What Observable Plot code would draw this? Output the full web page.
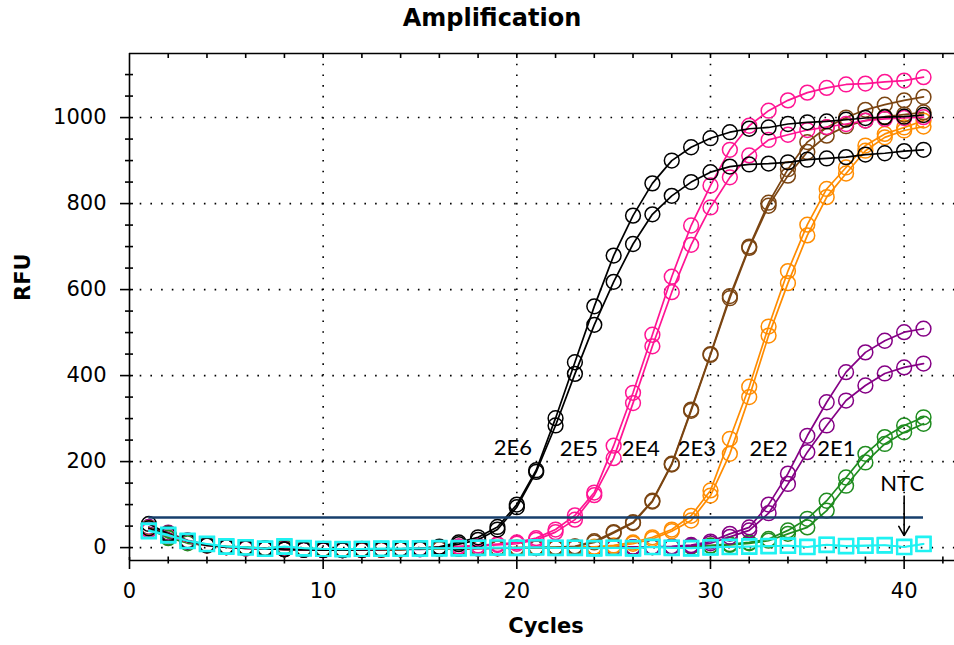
<!DOCTYPE html>
<html><head><meta charset="utf-8">
<script src="https://cdn.jsdelivr.net/npm/d3@7"></script>
<script src="https://cdn.jsdelivr.net/npm/@observablehq/plot@0.6"></script>
<style>
body{margin:0;background:#fff;}
#title{height:40px;width:984px;text-align:center;font:bold 24px "DejaVu Sans",sans-serif;line-height:36px;color:#000;}
</style></head><body>
<div id="title">Amplification</div>
<div id="chart"></div>
<script>
const cycles = [1,2,3,4,5,6,7,8,9,10,11,12,13,14,15,16,17,18,19,20,21,22,23,24,25,26,27,28,29,30,31,32,33,34,35,36,37,38,39,40,41];

const blackA = [55,32,14,6,2,0,-3,-4,-5,-6,-6,-5,-4,-3,-2,2,12,24,48,100,180,301,431,561,679,772,847,900,931,952,966,974,977,985,989,991,995,999,1001,1002,1006];
const blackB = [45,30,15,5,1,-1,-2,-4,-5,-5,-6,-5,-4,-4,-3,0,8,18,42,94,176,284,404,518,618,706,775,818,850,873,886,891,893,896,902,905,908,914,917,922,925];
const pinkA = [42,28,14,6,2,-1,-2,-3,-5,-6,-5,-5,-4,-3,-1,1,3,5,8,12,22,42,75,128,237,360,495,630,749,842,925,981,1016,1040,1058,1069,1077,1079,1083,1086,1094];
const pinkB = [40,27,13,5,1,-2,-3,-4,-5,-6,-6,-5,-4,-3,-2,0,2,4,6,9,18,36,65,122,208,336,468,594,704,791,861,912,948,960,971,978,985,993,997,999,1001];
const brownA = [44,33,16,7,2,-1,-3,-3,-4,-5,-6,-6,-5,-4,-3,-2,-2,-1,-1,0,0,1,3,15,36,59,109,195,321,450,585,700,802,880,943,977,1000,1018,1030,1040,1048];
const brownB = [42,31,15,6,1,-2,-3,-4,-5,-5,-5,-6,-5,-4,-3,-2,-2,-1,-1,-1,0,0,2,12,34,57,107,193,318,448,580,697,795,865,920,958,980,993,1002,1007,1012];
const orangeA = [46,30,15,6,2,0,-2,-3,-4,-5,-4,-5,-5,-4,-3,-2,-2,-1,-1,0,0,1,1,2,5,12,24,42,74,133,253,374,514,643,751,834,884,935,962,977,993];
const orangeB = [44,29,14,5,1,-1,-2,-4,-4,-5,-5,-5,-4,-4,-3,-3,-2,-1,-1,-1,0,0,1,1,3,9,20,38,63,121,218,350,493,615,726,815,870,923,954,970,979];
const purpleA = [48,35,17,7,2,-1,-3,-3,-5,-6,-6,-5,-5,-4,-3,-3,-2,-2,-1,-1,-1,0,0,0,1,1,2,3,6,14,32,47,100,172,260,338,408,454,481,501,509];
const purpleB = [46,33,16,6,1,-2,-3,-4,-5,-6,-5,-6,-5,-4,-4,-3,-3,-2,-2,-1,-1,-1,0,0,0,1,1,2,4,10,25,40,80,148,222,284,342,377,405,419,428];
const greenA = [47,24,10,5,3,1,-1,2,-2,-3,-4,-4,-3,-3,-3,-2,-2,-2,-1,-1,-1,0,0,0,1,1,1,2,3,5,8,12,20,40,67,109,163,218,257,284,303];
const greenB = [44,22,12,6,2,0,-2,0,-3,-4,-4,-3,-4,-3,-2,-2,-2,-1,-1,-1,0,0,0,0,1,1,1,2,2,4,6,10,16,32,47,86,144,198,241,268,288];
const ntcA = [40,30,16,9,3,1,-3,3,-1,-3,-3,-3,-3,-2,-2,-2,-1,-1,0,0,0,0,-1,-1,0,-2,2,-1,-1,0,2,3,4,4,2,7,4,5,5,2,9];
const ntcB = [38,28,15,8,2,0,-2,2,-2,-3,-4,-3,-2,-3,-2,-1,-2,0,0,-1,1,-1,0,-2,-1,-1,1,0,-2,1,1,2,3,5,1,6,3,4,6,1,8];

const groups = ["2E6","2E5","2E4","2E3","2E2","2E1","NTC"];
const threshold = 70;
const thresholdCycles = [1, 41];

const labelNames = ["2E6","2E5","2E4","2E3","2E2","2E1"];
const labelCycles = [19.8, 23.2, 26.4, 29.3, 33.0, 36.5];
const labelRFU = [232, 230, 230, 230, 230, 230];
const ntcLabel = {text: "NTC", cycle: 39.9, rfu: 149};
const ntcArrow = {cycle: 40, from: 120, to: 28};

const xMajor = [0,10,20,30,40];
const xMinor = [2,4,6,8,12,14,16,18,22,24,26,28,32,34,36,38,42];
const yMajor = [0,200,400,600,800,1000];
const yMinor = [50,100,150,250,300,350,450,500,550,650,700,750,850,900,950,1050,1100];
const xDomain = [0, 42.6];
const yDomain = [-30, 1149];

// order of drawing (back to front)
const seriesList = [
  {id:"2E1 a", group:"2E1", values:greenA},
  {id:"2E1 b", group:"2E1", values:greenB},
  {id:"2E2 a", group:"2E2", values:purpleA},
  {id:"2E2 b", group:"2E2", values:purpleB},
  {id:"2E3 a", group:"2E3", values:orangeA},
  {id:"2E3 b", group:"2E3", values:orangeB},
  {id:"2E4 a", group:"2E4", values:brownA},
  {id:"2E4 b", group:"2E4", values:brownB},
  {id:"2E5 a", group:"2E5", values:pinkA},
  {id:"2E5 b", group:"2E5", values:pinkB},
  {id:"2E6 a", group:"2E6", values:blackA},
  {id:"2E6 b", group:"2E6", values:blackB},
  {id:"NTC a", group:"NTC", values:ntcA},
  {id:"NTC b", group:"NTC", values:ntcB}
];
const colorRange = ["#000000","#ff1493","#7b4512","#ff8c00","#850085","#1f8c1f","#1ff2f2"];

const seriesMarks = [];
for (const s of seriesList) {
  const rows = cycles.map((c, i) => ({cycle: c, rfu: s.values[i], group: s.group, id: s.id}));
  const isNtc = s.group === "NTC";
  seriesMarks.push(Plot.line(rows, {x: "cycle", y: "rfu", stroke: "group", strokeWidth: 1.7}));
  seriesMarks.push(Plot.dot(rows, {x: "cycle", y: "rfu", stroke: "group", fill: "none",
    symbol: isNtc ? "square" : "circle", r: isNtc ? 8 : 7.4, strokeWidth: isNtc ? 2.2 : 1.5}));
}

const dotted = {stroke: "#000", strokeWidth: 1.6, strokeDasharray: "1.6,9.1"};

const chart = Plot.plot({
  width: 954, height: 605,
  marginLeft: 129, marginRight: 0, marginTop: 13, marginBottom: 85,
  style: {fontFamily: "DejaVu Sans, sans-serif", fontSize: "21px", color: "#000", background: "#fff", overflow: "visible"},
  x: {domain: xDomain},
  y: {domain: yDomain},
  color: {domain: groups, range: colorRange},
  marks: [
    Plot.ruleY(yMajor, {...dotted}),
    Plot.ruleX(xMajor.filter(d => d > 0), {...dotted}),
    Plot.ruleX([xDomain[0]], {stroke: "#000", strokeWidth: 1.6}),
    Plot.ruleY([yDomain[0]], {stroke: "#000", strokeWidth: 1.6}),
    Plot.ruleY([yDomain[1]], {stroke: "#000", strokeWidth: 1.6}),
    Plot.axisY({ticks: yMajor, tickSize: 0, tickPadding: 23, label: null, fontSize: 21, tickFormat: d => String(d)}),
    Plot.axisY({ticks: yMajor, tickSize: 13, dx: 4, fill: "none", label: null, strokeWidth: 1.6}),
    Plot.axisY({ticks: yMinor, tickSize: 8, dx: 4, fill: "none", label: null, strokeWidth: 1.6}),
    Plot.axisX({ticks: xMajor, tickSize: 0, tickPadding: 23, label: null, fontSize: 21, tickFormat: d => String(d)}),
    Plot.axisX({ticks: xMajor, tickSize: 12, dy: -3, fill: "none", label: null, strokeWidth: 1.6}),
    Plot.axisX({ticks: xMinor, tickSize: 7, dy: -3.5, fill: "none", label: null, strokeWidth: 1.6}),
    Plot.axisX({anchor: "top", ticks: xMinor.concat(xMajor.filter(d => d > 0)), tickSize: 4, dy: 4, fill: "none", label: null, strokeWidth: 1.6}),
    ...seriesMarks,
    Plot.ruleY([threshold], {x1: thresholdCycles[0], x2: thresholdCycles[1], stroke: "#173f6c", strokeWidth: 2.6}),
    Plot.text(labelNames, {x: (d, i) => labelCycles[i], y: (d, i) => labelRFU[i], text: d => d,
      fontFamily: "Lato, sans-serif", fontSize: 22, fill: "#000", textAnchor: "middle", lineAnchor: "middle"}),
    Plot.text([ntcLabel], {x: "cycle", y: "rfu", text: "text", fontFamily: "Lato, sans-serif", fontSize: 22, fill: "#000", lineAnchor: "middle"}),
    Plot.arrow([ntcArrow], {x1: "cycle", x2: "cycle", y1: "from", y2: "to", stroke: "#000", strokeWidth: 1.6, headLength: 10, bend: 0}),
    Plot.text(["Cycles"], {frameAnchor: "bottom", text: d => d, dy: 72, dx: 4, fontWeight: "bold", fontSize: 21, lineAnchor: "bottom"}),
    Plot.text(["RFU"], {frameAnchor: "left", text: d => d, dx: -106, dy: -6, rotate: -90, fontWeight: "bold", fontSize: 21})
  ]
});
document.getElementById("chart").appendChild(chart);
</script>
</body></html>
